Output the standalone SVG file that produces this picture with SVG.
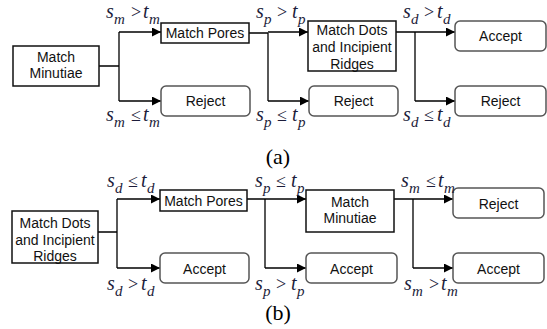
<svg xmlns="http://www.w3.org/2000/svg" width="547" height="329" viewBox="0 0 547 329">
<defs>
<marker id="ah" markerUnits="userSpaceOnUse" markerWidth="10" markerHeight="10" refX="9" refY="4.5" orient="auto"><path d="M0,0 L9,4.5 L0,9 Z" fill="#000"/></marker>
<style>
.box{fill:#fff;stroke:#111;stroke-width:1.5}
.rbox{fill:#fff;stroke:#555;stroke-width:1.5}
.bt{font-family:"Liberation Sans",Arial,sans-serif;font-size:14px;fill:#111;text-anchor:middle}
.c{fill:none;stroke:#000;stroke-width:1.3}
.a{fill:none;stroke:#000;stroke-width:1.3;marker-end:url(#ah)}
.lb{font-family:"Liberation Serif","Times New Roman",serif;font-style:italic;font-size:20px;fill:#1c1c3a}
.sb{font-size:15px}
.op{font-style:normal;font-size:18px}
.cap{font-family:"Liberation Serif","Times New Roman",serif;font-size:22px;fill:#000;text-anchor:middle}
</style>
</defs>
<g id="connectors">
<path class="c" d="M99,66 H119 M119,32 V101"/>
<path class="a" d="M119,32 H161"/>
<path class="a" d="M119,101 H161"/>
<path class="c" d="M249,33 H268 M268,33 V101"/>
<path class="a" d="M268,32 H308"/>
<path class="a" d="M268,101 H309"/>
<path class="c" d="M396,32 H415 M415,32 V101"/>
<path class="a" d="M415,32 H455"/>
<path class="a" d="M415,101 H455"/>
<path class="c" d="M98,232 H117 M117,199 V268"/>
<path class="a" d="M117,199 H160"/>
<path class="a" d="M117,268 H160"/>
<path class="c" d="M247,199 H265 M265,199 V268"/>
<path class="a" d="M265,199 H306"/>
<path class="a" d="M265,268 H306"/>
<path class="c" d="M394,199 H413 M413,199 V268"/>
<path class="a" d="M413,199 H453"/>
<path class="a" d="M413,268 H453"/>
</g>
<g id="a-minutiae"><rect class="box" x="13" y="46" width="86" height="40"/><text class="bt" x="56" y="62">Match</text><text class="bt" x="56" y="78">Minutiae</text></g>
<g id="a-pores"><rect class="box" x="161" y="23" width="88" height="20"/><text class="bt" x="205" y="38">Match Pores</text></g>
<g id="a-reject1"><rect class="rbox" x="161" y="86" width="89" height="30" rx="5"/><text class="bt" x="205.5" y="106">Reject</text></g>
<g id="a-dots"><rect class="box" x="308" y="21" width="88" height="50"/><text class="bt" x="352" y="35">Match Dots</text><text class="bt" x="352" y="52">and Incipient</text><text class="bt" x="352" y="69">Ridges</text></g>
<g id="a-reject2"><rect class="rbox" x="309" y="86" width="89" height="30" rx="5"/><text class="bt" x="353.5" y="106">Reject</text></g>
<g id="a-accept"><rect class="rbox" x="455" y="21" width="91" height="30" rx="5"/><text class="bt" x="500.5" y="41">Accept</text></g>
<g id="a-reject3"><rect class="rbox" x="455" y="86" width="91" height="30" rx="5"/><text class="bt" x="500.5" y="106">Reject</text></g>
<g id="b-dots"><rect class="box" x="12" y="211" width="86" height="52"/><text class="bt" x="55" y="228">Match Dots</text><text class="bt" x="55" y="245">and Incipient</text><text class="bt" x="55" y="261">Ridges</text></g>
<g id="b-pores"><rect class="box" x="160" y="190" width="87" height="21"/><text class="bt" x="203.5" y="206">Match Pores</text></g>
<g id="b-accept1"><rect class="rbox" x="160" y="253" width="89" height="30" rx="5"/><text class="bt" x="204.5" y="274">Accept</text></g>
<g id="b-minutiae"><rect class="box" x="306" y="190" width="88" height="42"/><text class="bt" x="350" y="207">Match</text><text class="bt" x="350" y="223">Minutiae</text></g>
<g id="b-accept2"><rect class="rbox" x="306" y="253" width="91" height="30" rx="5"/><text class="bt" x="351.5" y="274">Accept</text></g>
<g id="b-reject"><rect class="rbox" x="453" y="188" width="91" height="30" rx="5"/><text class="bt" x="498.5" y="209">Reject</text></g>
<g id="b-accept3"><rect class="rbox" x="453" y="253" width="91" height="30" rx="5"/><text class="bt" x="498.5" y="274">Accept</text></g>
<g id="labels">
<text class="lb" x="106" y="18">s<tspan class="sb" x="114" dy="6">m</tspan><tspan class="op" x="131" dy="-6">&gt;</tspan><tspan x="143">t</tspan><tspan class="sb" x="149" dy="6">m</tspan></text>
<text class="lb" x="106" y="121">s<tspan class="sb" x="114" dy="6">m</tspan><tspan class="op" x="131" dy="-6">≤</tspan><tspan x="143">t</tspan><tspan class="sb" x="149" dy="6">m</tspan></text>
<text class="lb" x="256" y="18">s<tspan class="sb" x="264" dy="6">p</tspan><tspan class="op" x="277" dy="-6">&gt;</tspan><tspan x="292">t</tspan><tspan class="sb" x="298" dy="6">p</tspan></text>
<text class="lb" x="256" y="121">s<tspan class="sb" x="264" dy="6">p</tspan><tspan class="op" x="277" dy="-6">≤</tspan><tspan x="292">t</tspan><tspan class="sb" x="298" dy="6">p</tspan></text>
<text class="lb" x="403" y="18">s<tspan class="sb" x="411" dy="6">d</tspan><tspan class="op" x="424" dy="-6">&gt;</tspan><tspan x="437">t</tspan><tspan class="sb" x="443" dy="6">d</tspan></text>
<text class="lb" x="403" y="121">s<tspan class="sb" x="411" dy="6">d</tspan><tspan class="op" x="424" dy="-6">≤</tspan><tspan x="437">t</tspan><tspan class="sb" x="443" dy="6">d</tspan></text>
<text class="lb" x="107" y="187">s<tspan class="sb" x="115" dy="6">d</tspan><tspan class="op" x="128" dy="-6">≤</tspan><tspan x="141">t</tspan><tspan class="sb" x="147" dy="6">d</tspan></text>
<text class="lb" x="107" y="290">s<tspan class="sb" x="115" dy="6">d</tspan><tspan class="op" x="128" dy="-6">&gt;</tspan><tspan x="141">t</tspan><tspan class="sb" x="147" dy="6">d</tspan></text>
<text class="lb" x="255" y="187">s<tspan class="sb" x="263" dy="6">p</tspan><tspan class="op" x="276" dy="-6">≤</tspan><tspan x="291">t</tspan><tspan class="sb" x="297" dy="6">p</tspan></text>
<text class="lb" x="255" y="290">s<tspan class="sb" x="263" dy="6">p</tspan><tspan class="op" x="276" dy="-6">&gt;</tspan><tspan x="291">t</tspan><tspan class="sb" x="297" dy="6">p</tspan></text>
<text class="lb" x="401" y="187">s<tspan class="sb" x="409" dy="6">m</tspan><tspan class="op" x="426" dy="-6">≤</tspan><tspan x="438">t</tspan><tspan class="sb" x="444" dy="6">m</tspan></text>
<text class="lb" x="404" y="290">s<tspan class="sb" x="412" dy="6">m</tspan><tspan class="op" x="429" dy="-6">&gt;</tspan><tspan x="441">t</tspan><tspan class="sb" x="447" dy="6">m</tspan></text>
<text class="cap" x="278" y="164">(a)</text>
<text class="cap" x="278" y="320">(b)</text>
</g>
</svg>
